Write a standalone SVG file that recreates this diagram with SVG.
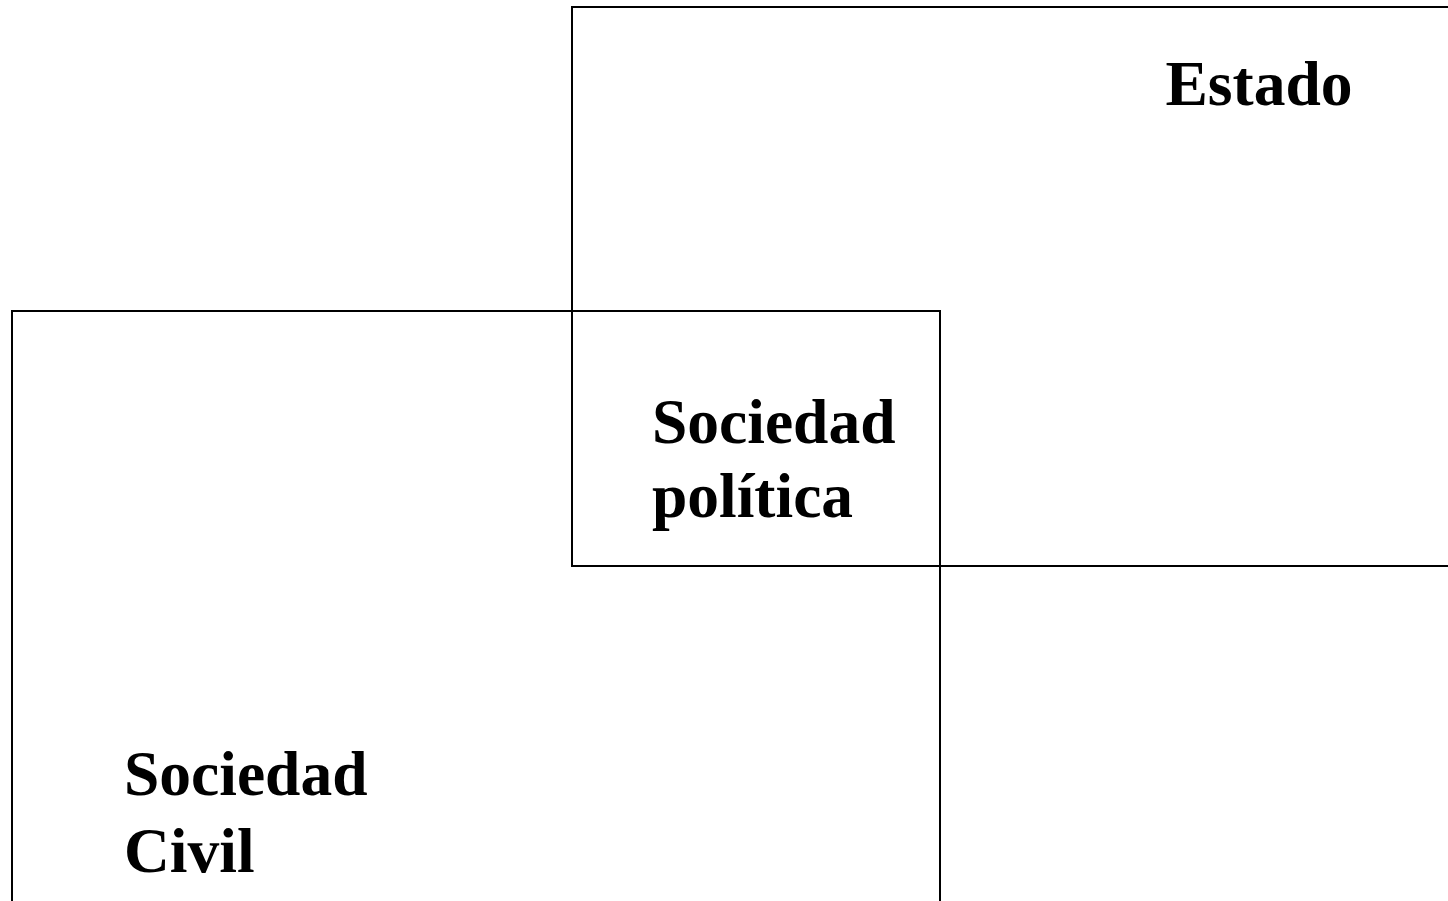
<svg xmlns="http://www.w3.org/2000/svg" width="1448" height="901" viewBox="0 0 1448 901">
<style>
.box{fill:none;stroke:#000;stroke-width:2}
.lbl{font-family:"Liberation Serif","Times New Roman",serif;font-weight:bold;font-size:63.5px;fill:#000}
</style>
<rect width="1448" height="901" fill="#fff"/>
<g id="estado">
<rect class="box" x="572" y="7" width="900" height="559"/>
<text class="lbl" x="1165.5" y="105">Estado</text>
</g>
<g id="sociedad-civil">
<rect class="box" x="12" y="311" width="928" height="620"/>
<text class="lbl" x="124" y="795">Sociedad</text>
<text class="lbl" x="124" y="872">Civil</text>
</g>
<g id="sociedad-politica">
<text class="lbl" x="652" y="443">Sociedad</text>
<text class="lbl" x="652" y="517">política</text>
</g>
<g id="connectors"></g>
</svg>
